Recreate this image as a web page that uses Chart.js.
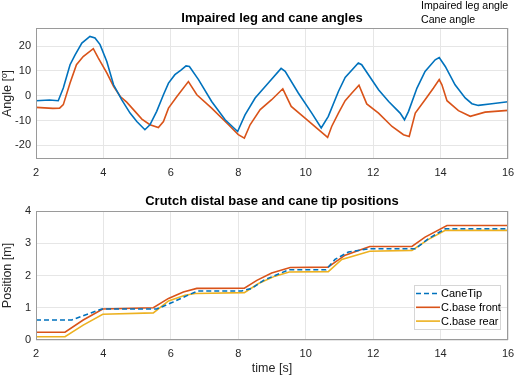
<!DOCTYPE html>
<html>
<head>
<meta charset="utf-8">
<script src="https://cdn.jsdelivr.net/npm/chart.js@4.4.0/dist/chart.umd.min.js"></script>
<style>
  html, body { margin: 0; padding: 0; background: #fff; }
  #wrap { position: relative; width: 515px; height: 376px; }
  canvas { position: absolute; left: 0; }
  #angleChart { top: 0; }
  #posChart { top: 185px; }
</style>
</head>
<body>
<div id="wrap">
  <canvas id="angleChart" width="515" height="185"></canvas>
  <canvas id="posChart" width="515" height="191"></canvas>
</div>
<script>
const FONT = '"Liberation Sans", Arial, Helvetica, sans-serif';
const BLUE = '#0072BD';
const RED = '#D95319';
const YELLOW = '#EDB120';

// top plot: angles [deg] vs time [s]
const legTime = [2, 2.4, 2.66, 2.81, 3.01, 3.16, 3.36, 3.6, 3.75, 3.9, 4.1, 4.3, 4.54, 4.79, 4.99, 5.23, 5.38, 5.58, 5.78, 5.93, 6.12, 6.3, 6.45, 6.55, 6.82, 7.21, 7.61, 7.98, 8.2, 8.5, 8.89, 9.27, 9.39, 9.78, 10.18, 10.46, 10.67, 10.97, 11.17, 11.56, 11.66, 12.16, 12.46, 12.8, 12.93, 13.05, 13.3, 13.54, 13.84, 13.96, 14.14, 14.43, 14.73, 14.93, 15.12, 15.52, 16];
const legAngle = [-2, -1.7, -2, 3.1, 12.5, 16.5, 21.2, 23.9, 23.3, 20.6, 13.8, 4.4, -1.6, -7, -10.4, -13.7, -11.7, -6.3, 0.4, 5.1, 8.5, 10.3, 12, 11.8, 6.5, -2.3, -9.7, -14.4, -7.7, -0.9, 5.1, 11, 9.8, 1.1, -7, -13, -8.3, 1.7, 7.4, 13.2, 12.5, 2.4, -2.3, -7, -9.7, -6.3, 3.1, 9.8, 14.5, 15.4, 11.8, 4.4, -0.9, -3.2, -3.9, -3.2, -2.4];
const caneTime = [2, 2.5, 2.7, 2.81, 3.01, 3.2, 3.4, 3.7, 3.85, 4.1, 4.3, 4.5, 4.69, 4.89, 5.14, 5.38, 5.63, 5.78, 5.93, 6.18, 6.52, 6.77, 7.21, 7.71, 8.0, 8.18, 8.35, 8.65, 8.99, 9.32, 9.57, 9.98, 10.38, 10.65, 10.77, 10.97, 11.17, 11.37, 11.58, 11.81, 12.16, 12.56, 12.9, 13.07, 13.25, 13.54, 13.79, 13.96, 14.04, 14.19, 14.53, 14.88, 15.32, 16];
const caneAngle = [-4.7, -5.1, -5, -3.6, 5.1, 12.5, 15.8, 19, 15.2, 9.2, 3.8, -0.3, -2.6, -5.6, -9.4, -11.7, -12.8, -10.4, -5, -0.3, 5.7, 0.4, -5, -11.7, -15.7, -17.1, -11.7, -5.6, -1.6, 2.8, -4.3, -9, -13.7, -16.8, -12.4, -7, -2, 1.1, 4.2, -3.3, -7, -12.4, -15.7, -16.4, -7, -1.6, 3.1, 6.5, 4.4, -2, -6, -8.3, -6.6, -5.9];
const angleTicks = [-20, -10, 0, 10, 20];

// bottom plot: positions [m] vs time [s]
const tipTime = [2, 3.06, 3.95, 5.58, 6.07, 6.57, 6.8, 8.1, 8.4, 8.75, 9.09, 9.5, 10.6, 10.87, 11.27, 11.9, 13.25, 13.64, 14.14, 16];
const caneTip = [0.62, 0.62, 0.96, 0.96, 1.18, 1.42, 1.52, 1.52, 1.6, 1.85, 2.0, 2.18, 2.18, 2.5, 2.73, 2.83, 2.83, 3.14, 3.45, 3.45];
const frontTime = [2, 2.86, 3.4, 3.98, 5.48, 5.93, 6.37, 6.77, 8.18, 8.55, 8.99, 9.54, 10.66, 11.17, 11.9, 13.15, 13.54, 14.19, 16];
const baseFront = [0.24, 0.24, 0.62, 0.96, 1.0, 1.29, 1.49, 1.6, 1.61, 1.85, 2.08, 2.25, 2.26, 2.63, 2.9, 2.9, 3.19, 3.55, 3.55];
const rearTime = [2, 2.86, 3.4, 3.98, 5.48, 5.93, 6.42, 6.72, 8.18, 8.6, 9.09, 9.51, 10.67, 11.07, 11.9, 13.15, 13.64, 14.14, 16];
const baseRear = [0.1, 0.1, 0.46, 0.8, 0.84, 1.21, 1.39, 1.44, 1.47, 1.75, 1.98, 2.11, 2.12, 2.5, 2.75, 2.78, 3.12, 3.4, 3.4];
const positionTicks = [0, 1, 2, 3, 4];
const timeTicks = [2, 4, 6, 8, 10, 12, 14, 16];

const toPoints = (xs, ys) => xs.map((x, i) => ({ x, y: ys[i] }));

Chart.defaults.font.family = FONT;
Chart.defaults.font.size = 11;
Chart.defaults.color = '#262626';

// draws the box round the axes, the title and the legend (matlab look)
const matlabAxes = {
  id: 'matlabAxes',
  afterDraw(chart, args, opts) {
    const { ctx, chartArea: a } = chart;
    ctx.save();
    ctx.strokeStyle = '#9a9a9a';
    ctx.lineWidth = 1;
    ctx.strokeRect(Math.round(a.left) + 0.5, Math.round(a.top) + 0.5,
      Math.round(a.right - a.left) - 1, Math.round(a.bottom - a.top) - 1);

    ctx.fillStyle = '#000';
    ctx.font = 'bold 13px ' + FONT;
    ctx.textAlign = 'center';
    ctx.textBaseline = 'middle';
    ctx.fillText(opts.title, (a.left + a.right) / 2, a.top - opts.titleGap);

    const ds = chart.data.datasets;
    ctx.textAlign = 'left';
    if (opts.legend === 'text') {
      ctx.font = '10.6px ' + FONT;
      ds.forEach((d, i) => ctx.fillText(d.label, a.right - 87, 6.5 + i * 13.5));
    } else if (opts.legend === 'box') {
      ctx.font = '11px ' + FONT;
      const w = 86, h = 44;
      const x0 = a.right - 8 - w, y0 = a.bottom - 11 - h;
      ctx.fillStyle = '#fff';
      ctx.fillRect(x0, y0, w, h);
      ctx.strokeStyle = '#d6d6d6';
      ctx.strokeRect(x0 + 0.5, y0 + 0.5, w, h);
      ds.forEach((d, i) => {
        const y = y0 + 8.5 + i * 13.8;
        ctx.strokeStyle = d.borderColor;
        ctx.lineWidth = 1.6;
        ctx.setLineDash(d.borderDash || []);
        ctx.beginPath();
        ctx.moveTo(x0 + 2, y);
        ctx.lineTo(x0 + 26, y);
        ctx.stroke();
        ctx.setLineDash([]);
        ctx.fillStyle = '#000';
        ctx.fillText(d.label, x0 + 27, y + 0.5);
      });
    }
    ctx.restore();
  },
};

const line = (label, data, color, dash) => ({
  label,
  data,
  borderColor: color,
  borderWidth: 1.6,
  borderDash: dash || [],
  pointRadius: 0,
  fill: false,
  tension: 0,
});

const xScale = (titleText, height) => ({
  type: 'linear',
  min: 2,
  max: 16,
  afterBuildTicks: (s) => { s.ticks = timeTicks.map((v) => ({ value: v })); },
  afterFit: (s) => { s.height = height; s.paddingLeft = 0; s.paddingRight = 0; },
  ticks: { padding: 7, maxRotation: 0, color: '#262626' },
  grid: { color: '#e6e6e6', drawTicks: false },
  border: { display: false },
  title: {
    display: !!titleText,
    text: titleText,
    color: '#262626',
    font: { size: 12.5 },
    padding: { top: 0, bottom: 0 },
  },
});

const yScale = (titleText, min, max, ticks) => ({
  min,
  max,
  afterBuildTicks: (s) => { s.ticks = ticks.map((v) => ({ value: v })); },
  afterFit: (s) => { s.width = 36; },
  ticks: { padding: 5, color: '#262626' },
  grid: { color: '#e6e6e6', drawTicks: false },
  border: { display: false },
  title: {
    display: true,
    text: titleText,
    color: '#262626',
    font: { size: 12.5 },
    padding: { top: 0, bottom: 0 },
  },
});

const baseOptions = {
  responsive: false,
  animation: false,
  devicePixelRatio: 1,
  plugins: { legend: { display: false }, tooltip: { enabled: false } },
};

new Chart(document.getElementById('angleChart'), {
  type: 'line',
  data: {
    datasets: [
      line('Impaired leg angle', toPoints(legTime, legAngle), BLUE),
      line('Cane angle', toPoints(caneTime, caneAngle), RED),
    ],
  },
  options: {
    ...baseOptions,
    layout: { padding: { top: 28, right: 7, left: 0, bottom: 0 } },
    scales: {
      x: xScale('', 26),
      y: yScale('Angle [º]', -25.5, 27.3, angleTicks),
    },
    plugins: {
      ...baseOptions.plugins,
      matlabAxes: { title: 'Impaired leg and cane angles', titleGap: 9.5, legend: 'text' },
    },
  },
  plugins: [matlabAxes],
});

new Chart(document.getElementById('posChart'), {
  type: 'line',
  data: {
    datasets: [
      line('CaneTip', toPoints(tipTime, caneTip), BLUE, [5, 3]),
      line('C.base front', toPoints(frontTime, baseFront), RED),
      line('C.base rear', toPoints(rearTime, baseRear), YELLOW),
    ],
  },
  options: {
    ...baseOptions,
    layout: { padding: { top: 26, right: 7, left: 0, bottom: 0 } },
    scales: {
      x: xScale('time [s]', 36),
      y: yScale('Position [m]', 0, 4, positionTicks),
    },
    plugins: {
      ...baseOptions.plugins,
      matlabAxes: { title: 'Crutch distal base and cane tip positions', titleGap: 10, legend: 'box' },
    },
  },
  plugins: [matlabAxes],
});
</script>
</body>
</html>
